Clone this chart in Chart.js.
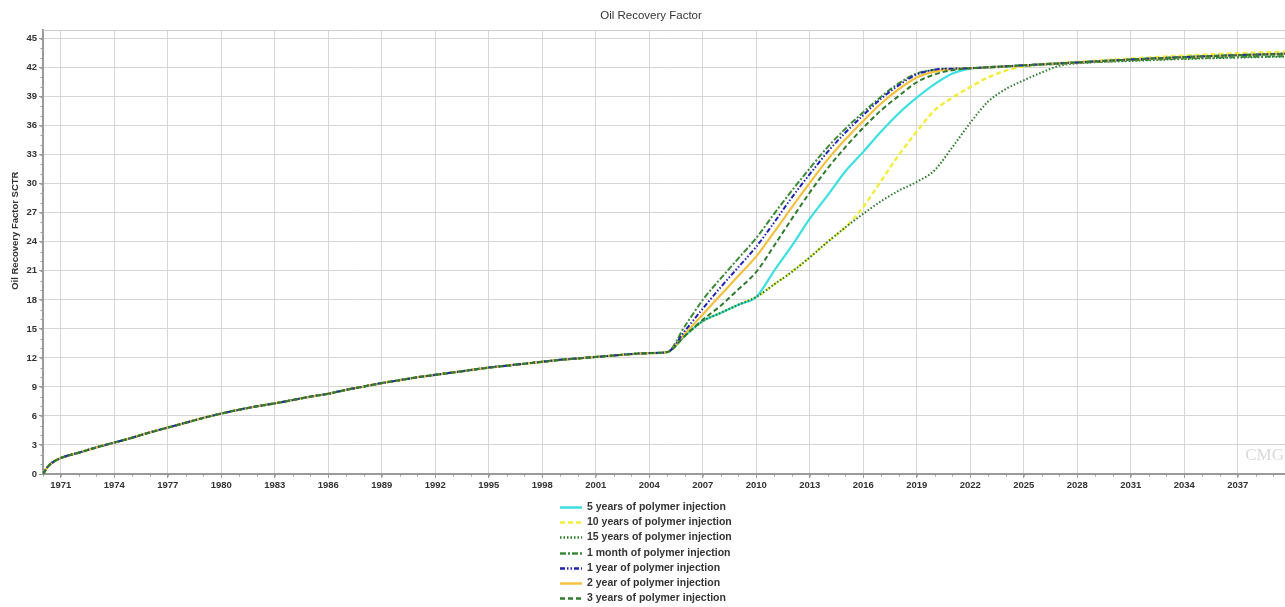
<!DOCTYPE html>
<html>
<head>
<meta charset="utf-8">
<script src="https://cdn.jsdelivr.net/npm/chart.js@4"></script>
<style>
  html, body { margin: 0; padding: 0; background: #ffffff; }
  #wrap { width: 1285px; height: 607px; }
</style>
</head>
<body>
<div id="wrap"><canvas id="rf"></canvas></div>
<script>
// Shared production history (same for every case), decimal years
const historyYears = [1970, 1970.25, 1970.5, 1971, 1972, 1973, 1974, 1975, 1976, 1977, 1978, 1979,
  1980, 1981, 1982, 1983, 1984, 1985, 1986, 1987, 1988, 1989, 1990, 1991, 1992, 1993, 1994,
  1995, 1996, 1997, 1998, 1999, 2000, 2001, 2002, 2003, 2004];
const historyRF = [0, 0.7, 1.15, 1.65, 2.2, 2.75, 3.25, 3.75, 4.3, 4.8, 5.3, 5.8,
  6.25, 6.65, 7.0, 7.3, 7.65, 8.0, 8.3, 8.7, 9.05, 9.4, 9.7, 10.0, 10.25, 10.5, 10.75,
  11.0, 11.2, 11.4, 11.6, 11.8, 11.95, 12.1, 12.25, 12.4, 12.5];

// Forecast period, one value per year then sparser on the plateau
const forecastYears = [2005, 2006, 2007, 2008, 2009, 2010, 2011, 2012, 2013, 2014, 2015, 2016,
  2017, 2018, 2019, 2020, 2021, 2022, 2023, 2024, 2025, 2026, 2027, 2028, 2031, 2034, 2037, 2039.65];

const rf5Years = [12.6, 14.3, 15.8, 16.65, 17.5, 18.3, 21.0, 23.6, 26.4, 28.8, 31.3, 33.3,
  35.4, 37.3, 38.9, 40.3, 41.4, 41.9, 42.05, 42.15, 42.25, 42.35, 42.45, 42.55, 42.85, 43.1, 43.3, 43.45];
const rf10Years = [12.6, 14.3, 15.8, 16.65, 17.5, 18.3, 19.6, 20.9, 22.4, 24.0, 25.5, 27.6,
  30.3, 33.0, 35.4, 37.6, 38.9, 40.0, 41.0, 41.7, 42.15, 42.35, 42.5, 42.6, 42.95, 43.25, 43.5, 43.65];
const rf15Years = [12.6, 14.3, 15.8, 16.65, 17.5, 18.3, 19.6, 20.9, 22.4, 24.0, 25.5, 26.9,
  28.2, 29.3, 30.2, 31.4, 33.8, 36.3, 38.5, 39.8, 40.7, 41.5, 42.2, 42.45, 42.7, 42.9, 43.05, 43.15];
const rf1Month = [12.6, 15.3, 18.0, 20.2, 22.3, 24.4, 26.9, 29.3, 31.6, 33.8, 35.7, 37.4,
  39.0, 40.4, 41.4, 41.8, 41.9, 41.95, 42.0, 42.1, 42.2, 42.3, 42.4, 42.5, 42.75, 42.95, 43.1, 43.2];
const rf1Year = [12.6, 14.8, 17.1, 19.3, 21.4, 23.5, 26.0, 28.6, 31.0, 33.3, 35.3, 37.1,
  38.8, 40.2, 41.3, 41.8, 41.9, 41.95, 42.05, 42.15, 42.25, 42.35, 42.45, 42.55, 42.85, 43.1, 43.3, 43.45];
const rf2Year = [12.6, 14.5, 16.5, 18.5, 20.5, 22.5, 25.0, 27.6, 30.1, 32.5, 34.6, 36.5,
  38.3, 39.8, 41.0, 41.6, 41.85, 41.95, 42.05, 42.15, 42.25, 42.35, 42.45, 42.55, 42.85, 43.1, 43.3, 43.45];
const rf3Years = [12.6, 14.3, 15.95, 17.4, 19.1, 20.9, 23.6, 26.4, 29.1, 31.6, 33.8, 35.8,
  37.6, 39.1, 40.5, 41.3, 41.75, 41.95, 42.05, 42.15, 42.25, 42.35, 42.45, 42.55, 42.85, 43.1, 43.3, 43.4];

const seriesNames = [
  '5 years of polymer injection',
  '10 years of polymer injection',
  '15 years of polymer injection',
  '1 month of polymer injection',
  '1 year of polymer injection',
  '2 year of polymer injection',
  '3 years of polymer injection'
];
const seriesValues = [rf5Years, rf10Years, rf15Years, rf1Month, rf1Year, rf2Year, rf3Years];

const xTickYears = [1971, 1974, 1977, 1980, 1983, 1986, 1989, 1992, 1995, 1998, 2001, 2004,
  2007, 2010, 2013, 2016, 2019, 2022, 2025, 2028, 2031, 2034, 2037];
const yTickValues = [0, 3, 6, 9, 12, 15, 18, 21, 24, 27, 30, 33, 36, 39, 42, 45];

const chartTitle = 'Oil Recovery Factor';
const yAxisTitle = 'Oil Recovery Factor SCTR';

// Line styles per case (legend order)
const styles = [
  { color: '#3ddfe0', dash: [],                     width: 2.2, order: 5 },
  { color: '#f1ee3c', dash: [5, 3],                 width: 2.4, order: 6 },
  { color: '#2b7a2b', dash: [1.5, 2],               width: 2,   order: 4 },
  { color: '#3a8a3a', dash: [6, 2, 2, 2],           width: 2,   order: 3 },
  { color: '#2222b0', dash: [5, 2, 1.5, 2, 1.5, 2], width: 2,   order: 1 },
  { color: '#f4c040', dash: [],                     width: 2.2, order: 2 },
  { color: '#2e7a2e', dash: [5, 3],                 width: 2,   order: 0 }
];

function toPoints(values) {
  const pts = historyYears.map((x, i) => ({ x: x, y: historyRF[i] }));
  forecastYears.forEach((x, i) => pts.push({ x: x, y: values[i] }));
  return pts;
}

const datasets = seriesNames.map((name, i) => ({
  label: name,
  data: toPoints(seriesValues[i]),
  borderColor: styles[i].color,
  backgroundColor: styles[i].color,
  borderDash: styles[i].dash,
  borderWidth: styles[i].width,
  pointRadius: 0,
  fill: false,
  cubicInterpolationMode: 'monotone',
  order: styles[i].order
}));

const TEXT = '#333333';
const GRID = '#d6d6d6';
const AXIS = '#9a9a9a';
const FONT = '"Liberation Sans", Arial, sans-serif';

// Titles, frame line, minor ticks, watermark and the stacked legend under the axis
const decorations = {
  id: 'decorations',
  beforeDatasetsDraw(chart) {
    const { ctx, chartArea: a } = chart;
    ctx.save();
    ctx.strokeStyle = '#cfcfcf';
    ctx.lineWidth = 1;
    ctx.beginPath();
    ctx.moveTo(a.left, a.top + 0.5);
    ctx.lineTo(a.right, a.top + 0.5);
    ctx.stroke();
    // minor ticks
    const xs = chart.scales.x, ys = chart.scales.y;
    ctx.strokeStyle = AXIS;
    ctx.beginPath();
    for (let yr = 1970; yr <= 2039; yr++) {
      const px = Math.round(xs.getPixelForValue(yr)) + 0.5;
      ctx.moveTo(px, a.bottom);
      ctx.lineTo(px, a.bottom + 2.5);
    }
    for (let v = 0; v <= 45; v++) {
      const py = Math.round(ys.getPixelForValue(v)) + 0.5;
      ctx.moveTo(a.left - 2.5, py);
      ctx.lineTo(a.left, py);
    }
    ctx.stroke();
    // watermark
    ctx.fillStyle = '#d9d9d9';
    ctx.font = '17px "Liberation Serif"';
    ctx.textAlign = 'right';
    ctx.textBaseline = 'alphabetic';
    ctx.fillText('CMG', a.right - 1, a.bottom - 14);
    // chart title
    ctx.fillStyle = TEXT;
    ctx.font = '11.5px ' + FONT;
    ctx.textAlign = 'center';
    ctx.textBaseline = 'middle';
    ctx.fillText(chartTitle, 651, a.top - 14);
    // y axis title
    ctx.translate(15, a.top + (a.bottom - a.top) * 0.452);
    ctx.rotate(-Math.PI / 2);
    ctx.font = 'bold 9.5px ' + FONT;
    ctx.fillText(yAxisTitle, 0, 0);
    ctx.restore();
  },
  afterDraw(chart) {
    const { ctx, chartArea: a } = chart;
    const x0 = 560, lineLen = 22, gap = 5;
    const firstRow = a.bottom + 33, rowH = 15.2;
    ctx.save();
    ctx.font = 'bold 10.5px ' + FONT;
    ctx.textAlign = 'left';
    ctx.textBaseline = 'middle';
    chart.data.datasets.forEach((ds, i) => {
      const y = Math.round(firstRow + i * rowH) + 0.5;
      ctx.strokeStyle = ds.borderColor;
      ctx.lineWidth = 2.5;
      ctx.setLineDash(ds.borderDash);
      ctx.beginPath();
      ctx.moveTo(x0, y);
      ctx.lineTo(x0 + lineLen, y);
      ctx.stroke();
      ctx.setLineDash([]);
      ctx.fillStyle = TEXT;
      ctx.fillText(ds.label, x0 + lineLen + gap, y);
    });
    ctx.restore();
  }
};

new Chart(document.getElementById('rf'), {
  type: 'line',
  data: { datasets: datasets },
  options: {
    responsive: true,
    maintainAspectRatio: false,
    animation: false,
    layout: { padding: { left: 0, right: 0, top: 30, bottom: 113 } },
    plugins: {
      legend: { display: false },
      tooltip: { enabled: false },
      title: { display: false }
    },
    scales: {
      x: {
        type: 'linear',
        min: 1970,
        max: 2039.65,
        afterBuildTicks(scale) { scale.ticks = xTickYears.map(v => ({ value: v })); },
        afterFit(scale) { scale.height = 20; },
        ticks: {
          autoSkip: false,
          maxRotation: 0,
          padding: 2,
          color: TEXT,
          font: { family: FONT, size: 9.5, weight: 'bold' },
          callback: v => String(v)
        },
        grid: { color: GRID, lineWidth: 1, tickLength: 4, tickColor: AXIS },
        border: { display: true, color: AXIS, width: 2 }
      },
      y: {
        min: 0,
        max: 45.9,
        afterBuildTicks(scale) { scale.ticks = yTickValues.map(v => ({ value: v })); },
        afterFit(scale) { scale.width = 43; },
        ticks: {
          padding: 2,
          color: TEXT,
          font: { family: FONT, size: 9.5, weight: 'bold' },
          callback: v => String(v)
        },
        grid: { color: GRID, lineWidth: 1, tickLength: 4, tickColor: AXIS },
        border: { display: true, color: AXIS, width: 2 },
        title: { display: false }
      }
    }
  },
  plugins: [decorations]
});
</script>
</body>
</html>
